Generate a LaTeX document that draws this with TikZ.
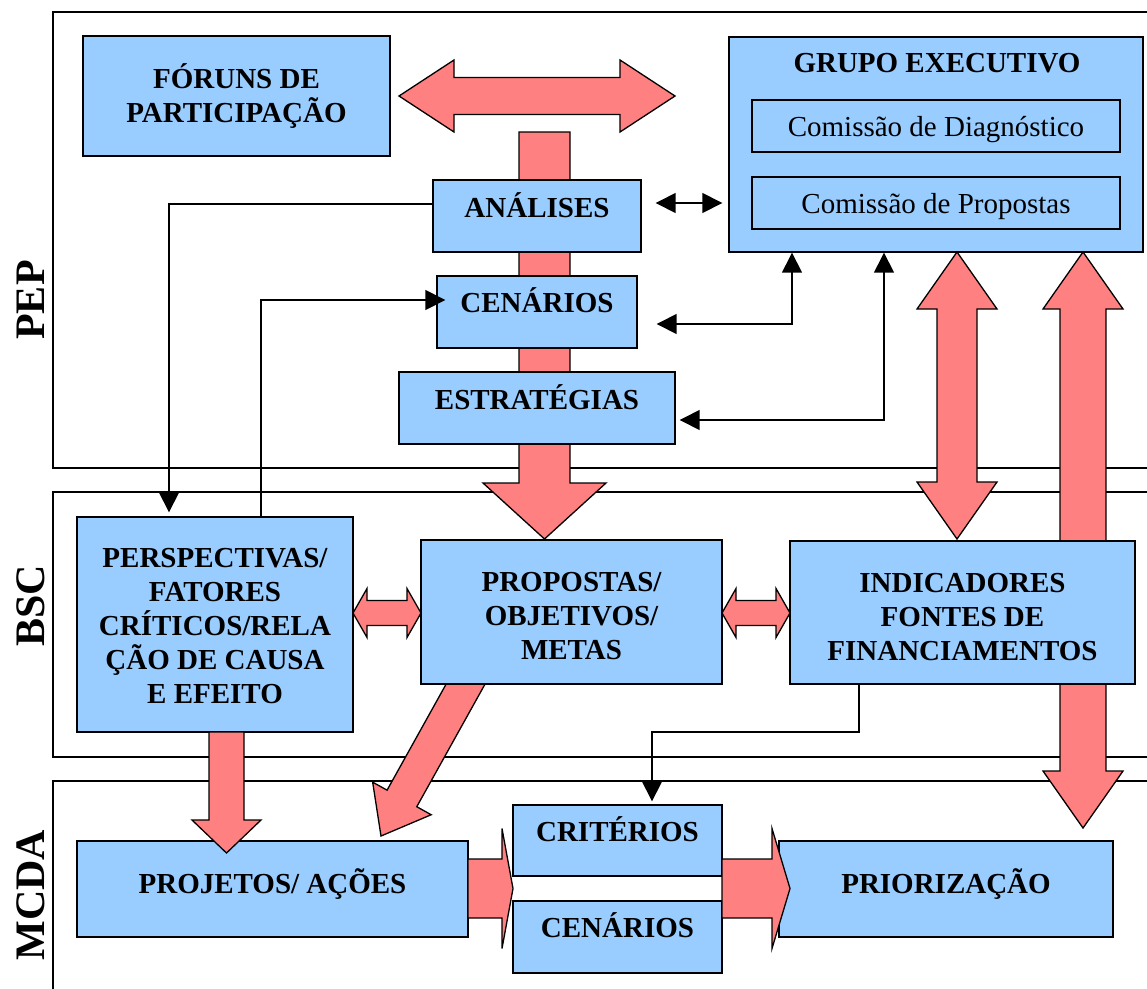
\documentclass[tikz,border=0pt]{standalone}
\usepackage{fontspec}
\setmainfont{Liberation Serif}
\usetikzlibrary{arrows.meta,calc}

\definecolor{boxblue}{RGB}{153,204,255}
\definecolor{arrowred}{RGB}{255,128,128}

% block arrow from tail #1 to tip #2; shaft half-width #3, head half-width #4, head length #5
\newcommand\blockarrow[5]{%
  \coordinate (ba-h) at ($(#2)!#5!(#1)$);
  \draw[redarrow] ($(#1)!#3!90:(#2)$) -- ($(ba-h)!#3!90:(#2)$) -- ($(ba-h)!#4!90:(#2)$) -- (#2)
    -- ($(ba-h)!#4!-90:(#2)$) -- ($(ba-h)!#3!-90:(#2)$) -- ($(#1)!#3!-90:(#2)$) -- cycle;
}
% double-headed block arrow between #1 and #2
\newcommand\dblockarrow[5]{%
  \coordinate (ba-p) at ($(#1)!#5!(#2)$);
  \coordinate (ba-q) at ($(#2)!#5!(#1)$);
  \draw[redarrow] (#1) -- ($(ba-p)!#4!90:(#2)$) -- ($(ba-p)!#3!90:(#2)$) -- ($(ba-q)!#3!90:(#2)$)
    -- ($(ba-q)!#4!90:(#2)$) -- (#2) -- ($(ba-q)!#4!-90:(#2)$) -- ($(ba-q)!#3!-90:(#2)$)
    -- ($(ba-p)!#3!-90:(#2)$) -- ($(ba-p)!#4!-90:(#2)$) -- cycle;
}

\begin{document}
\begin{tikzpicture}[x=1pt,y=1pt,
  frame/.style={draw=black, line width=1.4pt},
  redarrow/.style={fill=arrowred, draw=black, line width=1.3pt, line join=miter},
  box/.style={draw=black, line width=1.4pt, fill=boxblue, inner sep=0pt,
    font=\bfseries\fontsize{29}{34}\selectfont},
  mbox/.style={box, align=center},
  tline/.style={text height=20pt, text depth=#1},
  subbox/.style={draw=black, line width=1.4pt, fill=boxblue, inner sep=0pt,
    font=\fontsize{29}{34}\selectfont, text height=20pt, text depth=0pt},
  section/.style={font=\bfseries\fontsize{42}{48}\selectfont, rotate=90, anchor=base, inner sep=0pt},
  conn/.style={draw=black, line width=1.5pt},
  tip/.tip={Triangle[length=20pt,width=20pt]},
]
\useasboundingbox (0,0) rectangle (1147,-988);
\clip (0,0) rectangle (1147,-988);
\fill[white] (0,0) rectangle (1147,-988);

% layer frames
\draw[frame] (1170,-12) -- (53,-12) -- (53,-468) -- (1170,-468);
\draw[frame] (1170,-492) -- (53,-492) -- (53,-757) -- (1170,-757);
\draw[frame] (1170,-781) -- (53,-781) -- (53,-1000);

\node[section] (lpep) at (44,-300) {PEP};
\node[section] (lbsc) at (44,-606) {BSC};
\node[section] (lmcda) at (44,-895) {MCDA};

% flows that run behind the boxes
\coordinate (b1) at (544.5,-132);
\coordinate (b2) at (544.5,-539);
\blockarrow{b1}{b2}{25.5pt}{61.5pt}{56pt}
\coordinate (h1) at (479,-660);
\coordinate (h2) at (381,-836);
\blockarrow{h1}{h2}{17pt}{33.5pt}{43pt}

% PEP
\node[mbox, minimum width=307pt, minimum height=120pt] (forum) at (236.5,-96) {FÓRUNS DE\\PARTICIPAÇÃO};
\node[box, minimum width=414pt, minimum height=215pt] (grp) at (936,-144.5) {};
\node[font=\bfseries\fontsize{29}{34}\selectfont, anchor=base, inner sep=0pt] (grptitle) at (937,-72) {GRUPO EXECUTIVO};
\node[subbox, minimum width=368pt, minimum height=52pt] (cdiag) at (936,-126) {Comissão de Diagnóstico};
\node[subbox, minimum width=368pt, minimum height=52pt] (cprop) at (936,-203) {Comissão de Propostas};
\node[box, tline=18pt, minimum width=208pt, minimum height=72pt] (ana) at (537,-216) {ANÁLISES};
\node[box, tline=20pt, minimum width=200pt, minimum height=72pt] (cen) at (537,-312) {CENÁRIOS};
\node[box, tline=18pt, minimum width=276pt, minimum height=72pt] (str) at (537,-408) {ESTRATÉGIAS};

% long link from the executive group down to the prioritisation, passing behind the indicators
\coordinate (d1) at (1083,-252);
\coordinate (d2) at (1083,-828);
\dblockarrow{d1}{d2}{23pt}{40pt}{57pt}

% BSC
\node[mbox, minimum width=276pt, minimum height=215pt] (persp) at (215,-624.5)
  {\rule{0pt}{22pt}PERSPECTIVAS/\\FATORES\\CRÍTICOS/RELA\\ÇÃO DE CAUSA\\E EFEITO};
\node[mbox, minimum width=301pt, minimum height=144pt] (prop) at (571.5,-612)
  {\rule{0pt}{28pt}PROPOSTAS/\\OBJETIVOS/\\METAS};
\node[mbox, minimum width=345pt, minimum height=143pt] (ind) at (962.5,-612.5)
  {\rule{0pt}{28pt}INDICADORES\\FONTES DE\\FINANCIAMENTOS};

% MCDA
\node[box, tline=12pt, minimum width=391pt, minimum height=96pt] (proj) at (272.5,-889) {PROJETOS/ AÇÕES};
\node[box, tline=19pt, minimum width=209pt, minimum height=71pt] (cri) at (617.5,-840.5) {CRITÉRIOS};
\node[box, tline=20pt, minimum width=209pt, minimum height=72pt] (cen2) at (617.5,-937) {CENÁRIOS};
\node[box, tline=12pt, minimum width=334pt, minimum height=96pt] (prio) at (946,-889) {PRIORIZAÇÃO};

% block arrows on top
\coordinate (a1) at (399,-96);
\coordinate (a2) at (675,-96);
\dblockarrow{a1}{a2}{18.5pt}{36pt}{55pt}
\coordinate (c1) at (957,-252);
\coordinate (c2) at (957,-539);
\dblockarrow{c1}{c2}{20pt}{40pt}{57pt}
\coordinate (e1) at (353,-613);
\coordinate (e2) at (421,-613);
\dblockarrow{e1}{e2}{12.5pt}{24.5pt}{14pt}
\coordinate (f1) at (722,-613);
\coordinate (f2) at (790,-613);
\dblockarrow{f1}{f2}{12.5pt}{24.5pt}{14pt}
\coordinate (g1) at (226.5,-732);
\coordinate (g2) at (226.5,-853);
\blockarrow{g1}{g2}{17.5pt}{34.5pt}{33pt}
\coordinate (i1) at (468,-888.5);
\coordinate (i2) at (513,-888.5);
\blockarrow{i1}{i2}{29.5pt}{60pt}{11pt}
\coordinate (j1) at (722,-888.5);
\coordinate (j2) at (790,-888.5);
\blockarrow{j1}{j2}{29.5pt}{60pt}{18pt}

% thin connectors
\coordinate (k1) at (169,-204);
\draw[conn, -tip, shorten >=4pt] (ana.west |- k1) -- (k1) -- (k1 |- persp.north);
\coordinate (k2) at (261,-300);
\draw[conn, -tip, shorten >=-9pt] (k2 |- persp.north) -- (k2) -- (k2 -| cen.west);
\coordinate (k3) at (792,-324);
\draw[conn, tip-tip, shorten <=19pt] (k3 -| cen.east) -- (k3) -- (k3 |- grp.south);
\coordinate (k4) at (884,-420);
\draw[conn, tip-tip, shorten <=4pt] (k4 -| str.east) -- (k4) -- (k4 |- grp.south);
\coordinate (k5) at (0,-203);
\draw[conn, tip-tip, shorten <=14pt, shorten >=6pt] (k5 -| ana.east) -- (k5 -| grp.west);
\coordinate (k6) at (859,-732);
\coordinate (k7) at (652,-732);
\draw[conn, -tip, shorten >=3pt] (k6 |- ind.south) -- (k6) -- (k7) -- (k7 |- cri.north);
\end{tikzpicture}
\end{document}
